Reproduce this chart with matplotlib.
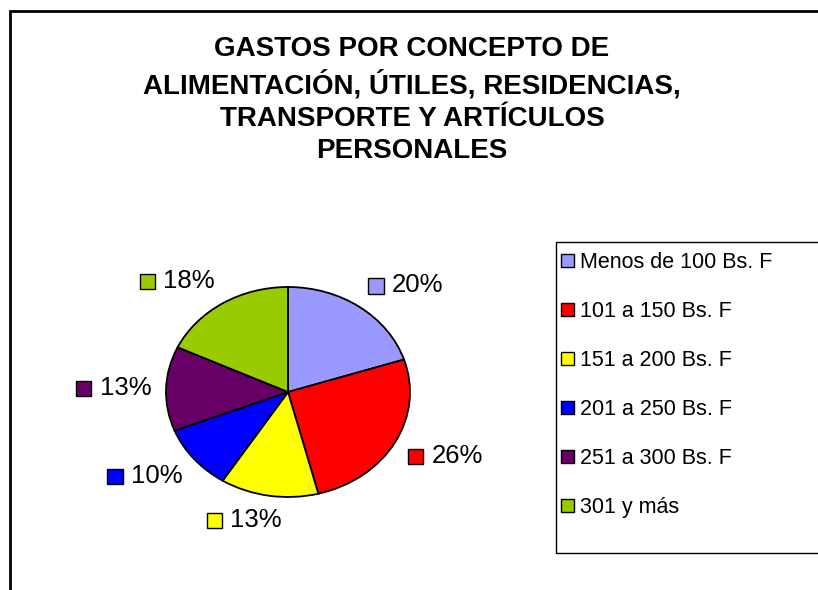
import matplotlib
matplotlib.use("Agg")
import matplotlib.pyplot as plt
from matplotlib.patches import Rectangle
from matplotlib.offsetbox import AnnotationBbox, DrawingArea, TextArea, HPacker
import numpy as np

plt.rcParams['font.family'] = ['Liberation Sans', 'DejaVu Sans']

title = "GASTOS POR CONCEPTO DE\nALIMENTACIÓN, ÚTILES, RESIDENCIAS,\nTRANSPORTE Y ARTÍCULOS\nPERSONALES"
categories = ["Menos de 100 Bs. F", "101 a 150 Bs. F", "151 a 200 Bs. F",
              "201 a 250 Bs. F", "251 a 300 Bs. F", "301 y más"]
percent = [20, 26, 13, 10, 13, 18]
colors = ["#9999FF", "#FF0000", "#FFFF00", "#0000FF", "#660066", "#99CC00"]

W, H = 818, 590
fig = plt.figure(figsize=(W / 100, H / 100), dpi=100)

def fx(px):
    return px / W

def fy(py):
    return 1 - py / H

# outer chart frame (right/bottom edges fall outside the picture)
fig.patches.append(Rectangle((fx(10), fy(H + 20)), 1.0, fy(11) - fy(H + 20),
                             transform=fig.transFigure, fill=False,
                             edgecolor="black", linewidth=2))

fig.text(fx(412), fy(100), title, ha="center", va="center", fontsize=20,
         fontweight="bold", linespacing=1.33)

# pie drawn in a stretched axes so that it comes out elliptical
ax = fig.add_axes([fx(166), fy(497), fx(410) - fx(166), fy(287) - fy(497)])
wedges, _ = ax.pie(percent, colors=colors, startangle=90, counterclock=False,
                   wedgeprops=dict(edgecolor="black", linewidth=1.3))
ax.set_aspect("auto")
ax.set_xlim(-1, 1)
ax.set_ylim(-1, 1)
ax.axis("off")

# data labels: small coloured square + percentage
for w, p, c in zip(wedges, percent, colors):
    mid = np.deg2rad((w.theta1 + w.theta2) / 2)
    cx, cy = np.cos(mid), np.sin(mid)
    r = 1.12
    ha = float(np.clip(0.5 - 1.9 * cx, 0, 1))
    va = float(np.clip(0.5 - 0.6 * cy, 0, 1))
    da = DrawingArea(12, 12, 0, 0)
    da.add_artist(Rectangle((0, 0), 11, 11, facecolor=c, edgecolor="black", linewidth=1))
    ta = TextArea(f"{p}%", textprops=dict(fontsize=18.5))
    box = HPacker(children=[da, ta], align="center", pad=0, sep=5)
    ab = AnnotationBbox(box, (r * cx, r * cy), xycoords="data", frameon=False,
                        box_alignment=(ha, va), pad=0, annotation_clip=False)
    ax.add_artist(ab)

# legend box
fig.patches.append(Rectangle((fx(556), fy(553)), 1.0, fy(242) - fy(553),
                             transform=fig.transFigure, fill=False,
                             edgecolor="black", linewidth=1))
leg = fig.legend(wedges, categories, loc="upper left",
                 bbox_to_anchor=(fx(561), fy(252)), frameon=False, fontsize=15.5,
                 handlelength=0.6, handleheight=0.6, handletextpad=0.3,
                 labelspacing=1.3, borderpad=0, borderaxespad=0)
for h in leg.legend_handles:
    h.set_linewidth(1)

fig.savefig("out.png", dpi=100)
